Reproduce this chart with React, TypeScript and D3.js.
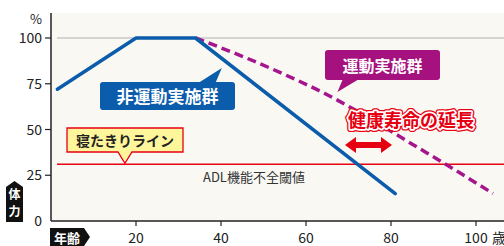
import React from 'react';
import * as d3 from 'd3';

// ages / stamina values
const nonExerciseAges = [1.5, 20, 34, 81];
const nonExerciseValues = [72, 100, 100, 15];
const exerciseAges = [34, 45, 55, 65, 75, 85, 95, 104];
const exerciseValues = [100, 90, 80, 69, 56, 42, 28, 15];
const bedriddenLine = 31;
const xTicks = [20, 40, 60, 80, 100];
const yTicks = [0, 25, 50, 75, 100];

const W = 504;
const H = 246;
const FONT = '"Noto Sans CJK JP", "Noto Sans", sans-serif';

const App = () => {
  const x = d3.scaleLinear().domain([0, 100]).range([51, 476]);
  const y = d3.scaleLinear().domain([0, 100]).range([221, 38]);
  const x0 = x(0);
  const y0 = y(0);
  const top = 13;

  const line = d3.line<[number, number]>()
    .x(d => x(d[0]))
    .y(d => y(d[1]));

  const blue = nonExerciseAges.map((a, i) => [a, nonExerciseValues[i]] as [number, number]);
  const purple = exerciseAges.map((a, i) => [a, exerciseValues[i]] as [number, number]);
  const purplePath = d3.line<[number, number]>()
    .x(d => x(d[0]))
    .y(d => y(d[1]))
    .curve(d3.curveMonotoneX)(purple);

  const redY = y(bedriddenLine);

  // callout: 寝たきりライン (yellow)
  const yb = { l: 67, r: 183, t: 128, b: 152, tipX: x(17.4), tipY: redY - 1 };
  const yellowPath = `M${yb.l},${yb.t}H${yb.r}V${yb.b}H${yb.tipX + 7}L${yb.tipX},${yb.tipY}L${yb.tipX - 7},${yb.b}H${yb.l}Z`;

  // callout: 非運動実施群 (blue), pointer at top right
  const bb = { l: 100, r: 235, t: 82, b: 110, tipX: x(40.2), tipY: y(83.6) };
  const bluePath = `M${bb.l + 3},${bb.t}H${bb.tipX - 22}L${bb.tipX},${bb.tipY}L${bb.tipX - 6},${bb.t}H${bb.r - 3}Q${bb.r},${bb.t} ${bb.r},${bb.t + 3}V${bb.b - 3}Q${bb.r},${bb.b} ${bb.r - 3},${bb.b}H${bb.l + 3}Q${bb.l},${bb.b} ${bb.l},${bb.b - 3}V${bb.t + 3}Q${bb.l},${bb.t} ${bb.l + 3},${bb.t}Z`;

  // callout: 運動実施群 (magenta), pointer at bottom left
  const mb = { l: 325, r: 440, t: 50, b: 80, tipX: x(67.4), tipY: y(70.5) };
  const magentaPath = `M${mb.l + 3},${mb.t}H${mb.r - 3}Q${mb.r},${mb.t} ${mb.r},${mb.t + 3}V${mb.b - 3}Q${mb.r},${mb.b} ${mb.r - 3},${mb.b}H${mb.tipX + 20}L${mb.tipX},${mb.tipY}L${mb.tipX + 5},${mb.b}H${mb.l + 3}Q${mb.l},${mb.b} ${mb.l},${mb.b - 3}V${mb.t + 3}Q${mb.l},${mb.t} ${mb.l + 3},${mb.t}Z`;

  // double arrow for 健康寿命の延長
  const ay = 145;
  const al = 345;
  const ar = 392;
  const arrowPath = `M${al},${ay}L${al + 11},${ay - 8}V${ay - 3}H${ar - 11}V${ay - 8}L${ar},${ay}L${ar - 11},${ay + 8}V${ay + 3}H${al + 11}V${ay + 8}Z`;

  return (
    <svg width={W} height={H} style={{ position: 'fixed', left: 0, top: 0, background: '#fff' }} fontFamily={FONT}>
      <rect x={x0} y={top} width={W - x0} height={y0 - top} fill="#f9f8f3" />

      {/* 100% guide */}
      <line x1={57} x2={W} y1={y(100)} y2={y(100)} stroke="#c9c9c9" strokeWidth={1.5} />

      {/* bedridden line */}
      <line x1={57} x2={W} y1={redY} y2={redY} stroke="#e60012" strokeWidth={1.3} />
      <text x={203} y={182} fontSize={13} fill="#333">ADL機能不全閾値</text>

      {/* exercise group */}
      <path d={purplePath || ''} fill="none" stroke="#a5158c" strokeWidth={3.5} strokeDasharray="9,5" />
      {/* non-exercise group */}
      <path d={line(blue) || ''} fill="none" stroke="#0b5cab" strokeWidth={3.5} strokeLinejoin="round" strokeLinecap="round" />

      {/* axes */}
      <line x1={x0} x2={x0} y1={top} y2={y0} stroke="#222" strokeWidth={1.5} />
      <line x1={x0} x2={W} y1={y0} y2={y0} stroke="#222" strokeWidth={1.5} />
      {yTicks.map(t => (
        <g key={t}>
          {t > 0 && <line x1={x0 - 6} x2={x0} y1={y(t)} y2={y(t)} stroke="#222" strokeWidth={1.2} />}
          <text x={42} y={y(t) + 5} fontSize={14} textAnchor="end" fill="#222">{t}</text>
        </g>
      ))}
      <text x={42} y={24} fontSize={13} textAnchor="end" fill="#222">%</text>
      {xTicks.map(t => (
        <g key={t}>
          <line x1={x(t)} x2={x(t)} y1={y0} y2={y0 + 5} stroke="#222" strokeWidth={1.2} />
          <text x={x(t)} y={243} fontSize={14} textAnchor="middle" fill="#222">{t}</text>
        </g>
      ))}
      <text x={x(100) + 16} y={243} fontSize={14} fill="#222">歳</text>

      {/* 体力 badge */}
      <path d="M6,187L14.5,181L23,187V222H6Z" fill="#111" />
      <text x={14.5} y={199} fontSize={12} fontWeight="bold" textAnchor="middle" fill="#fff">体</text>
      <text x={14.5} y={216} fontSize={12} fontWeight="bold" textAnchor="middle" fill="#fff">力</text>

      {/* 年齢 badge */}
      <path d="M50,228H84L90,237L84,246H50Z" fill="#111" />
      <text x={54} y={243} fontSize={13} fontWeight="bold" fill="#fff">年齢</text>

      {/* callouts */}
      <path d={yellowPath} fill="#fff59a" stroke="#e60012" strokeWidth={1.3} />
      <text x={(yb.l + yb.r) / 2} y={146} fontSize={14} fontWeight="bold" textAnchor="middle" fill="#222">寝たきりライン</text>

      <path d={bluePath} fill="#0b5cab" />
      <text x={(bb.l + bb.r) / 2} y={103} fontSize={17} fontWeight="bold" textAnchor="middle" fill="#fff">非運動実施群</text>

      <path d={magentaPath} fill="#a5117e" />
      <text x={(mb.l + mb.r) / 2} y={72} fontSize={16} fontWeight="bold" textAnchor="middle" fill="#fff">運動実施群</text>

      {/* 健康寿命の延長 */}
      <g fontSize={18} fontWeight="bold" textAnchor="middle">
        <text x={411} y={127} fill="#e60012" stroke="#e60012" strokeWidth={6} strokeLinejoin="round">健康寿命の延長</text>
        <text x={411} y={127} fill="#e60012" stroke="#fff" strokeWidth={3.5} strokeLinejoin="round">健康寿命の延長</text>
        <text x={411} y={127} fill="#e60012">健康寿命の延長</text>
      </g>
      <path d={arrowPath} fill="#e60012" />
    </svg>
  );
};

export default App;
